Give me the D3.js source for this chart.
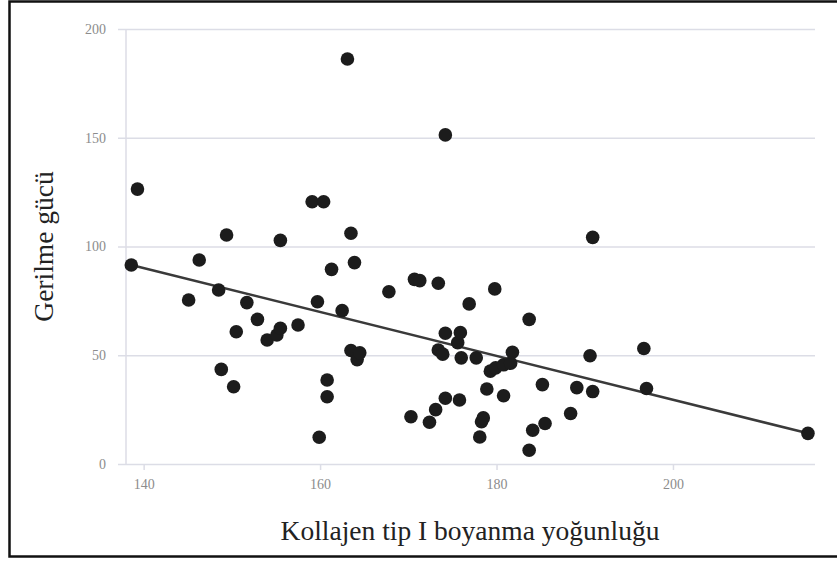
<!DOCTYPE html>
<html>
<head>
<meta charset="utf-8">
<script src="https://cdn.jsdelivr.net/npm/d3@7"></script>
<style>
  html, body { margin: 0; padding: 0; background: #fff; }
  svg { display: block; }
</style>
</head>
<body>
<svg id="chart" width="837" height="563"></svg>
<script>
// Collagen type I staining intensity (x) vs. tensile strength (y)
const xValues = [
  138.6, 139.3, 145.1, 146.3, 148.5, 148.8, 149.4, 150.2, 150.5, 151.7,
  152.9, 154.0, 155.1, 155.5, 155.5, 157.5, 159.1, 159.7, 159.9, 160.4,
  160.8, 160.8, 161.3, 162.5, 163.1, 163.5, 163.5, 163.9, 164.2, 164.5,
  167.8, 170.3, 170.7, 171.3, 172.4, 173.1, 173.4, 173.4, 173.9, 174.2,
  174.2, 174.2, 175.6, 175.8, 175.9, 176.0, 176.9, 177.7, 178.1, 178.3,
  178.5, 178.9, 179.3, 179.8, 179.9, 180.8, 180.8, 181.6, 181.8, 183.7,
  183.7, 184.1, 185.2, 185.5, 188.4, 189.1, 190.6, 190.9, 190.9, 196.7,
  197.0, 215.3
];
const yValues = [
  91.5, 126.4, 75.4, 93.8, 80.0, 43.5, 105.3, 35.5, 60.8, 74.2,
  66.5, 57.0, 59.3, 62.4, 102.8, 63.9, 120.6, 74.6, 12.3, 120.6,
  38.6, 30.9, 89.5, 70.5, 186.2, 106.1, 52.2, 92.6, 48.0, 51.1,
  79.2, 21.7, 84.9, 84.3, 19.2, 25.0, 83.1, 52.4, 50.5, 151.3,
  60.1, 30.2, 55.8, 29.4, 60.4, 48.8, 73.6, 48.8, 12.4, 19.4,
  21.2, 34.5, 42.7, 80.5, 44.2, 45.6, 31.4, 46.3, 51.4, 66.5,
  6.3, 15.5, 36.5, 18.6, 23.2, 35.1, 49.8, 104.2, 33.3, 53.1,
  34.7, 14.1
];
// Fitted trend line end points
const trendX = [138.6, 215.3];
const trendY = [91.5, 14.1];

const xTicks = [140, 160, 180, 200];
const yTicks = [0, 50, 100, 150, 200];
const xTitle = "Kollajen tip I boyanma yoğunluğu";
const yTitle = "Gerilme gücü";

const points = xValues.map((x, i) => ({ x, y: yValues[i] }));
const trend = trendX.map((x, i) => ({ x, y: trendY[i] }));

const svg = d3.select("#chart");
const plotLeft = 126, plotRight = 815, plotTop = 29, plotBottom = 464;

const x = d3.scaleLinear().domain([138, 216.1]).range([plotLeft, plotRight]);
const y = d3.scaleLinear().domain([0, 200]).range([plotBottom, plotTop]);

const gridColor = "#dcdde6";
const tickColor = "#8c8c8c";
const serif = "'Liberation Serif', 'Times New Roman', serif";

// Outer frame
svg.append("rect")
  .attr("x", 9.5).attr("y", 1.5)
  .attr("width", 900).attr("height", 555)
  .attr("fill", "none").attr("stroke", "#111").attr("stroke-width", 2.5);

// Horizontal grid lines with y axis labels
const yAxis = d3.axisLeft(y).tickValues(yTicks).tickSize(plotRight - plotLeft + 8).tickPadding(12);
const gy = svg.append("g")
  .attr("transform", `translate(${plotRight},0)`)
  .call(yAxis);
gy.select(".domain").remove();
gy.selectAll(".tick line").attr("stroke", gridColor).attr("stroke-width", 1.5);
gy.selectAll(".tick text")
  .attr("fill", tickColor)
  .style("font-family", serif)
  .style("font-size", "14px");

// Vertical axis line
svg.append("line")
  .attr("x1", plotLeft).attr("x2", plotLeft)
  .attr("y1", plotTop).attr("y2", plotBottom)
  .attr("stroke", gridColor).attr("stroke-width", 1.5);

// X axis ticks and labels
const xAxis = d3.axisBottom(x).tickValues(xTicks).tickSize(6).tickPadding(9);
const gx = svg.append("g")
  .attr("transform", `translate(0,${plotBottom})`)
  .call(xAxis);
gx.select(".domain").remove();
gx.selectAll(".tick line").attr("stroke", gridColor).attr("stroke-width", 1.5);
gx.selectAll(".tick text")
  .attr("fill", tickColor)
  .style("font-family", serif)
  .style("font-size", "14px");

// Trend line
const line = d3.line().x(d => x(d.x)).y(d => y(d.y));
svg.append("path")
  .datum(trend)
  .attr("d", line)
  .attr("fill", "none")
  .attr("stroke", "#3a3a3a")
  .attr("stroke-width", 2.5);

// Scatter points
svg.append("g")
  .selectAll("circle")
  .data(points)
  .join("circle")
  .attr("cx", d => x(d.x))
  .attr("cy", d => y(d.y))
  .attr("r", 6.8)
  .attr("fill", "#1c1c1c");

// Axis titles
svg.append("text")
  .attr("x", 470).attr("y", 540)
  .attr("text-anchor", "middle")
  .attr("fill", "#222")
  .style("font-family", serif)
  .style("font-size", "27.5px")
  .text(xTitle);

svg.append("text")
  .attr("transform", "translate(53,246.5) rotate(-90)")
  .attr("text-anchor", "middle")
  .attr("fill", "#222")
  .style("font-family", serif)
  .style("font-size", "27.5px")
  .text(yTitle);
</script>
</body>
</html>
